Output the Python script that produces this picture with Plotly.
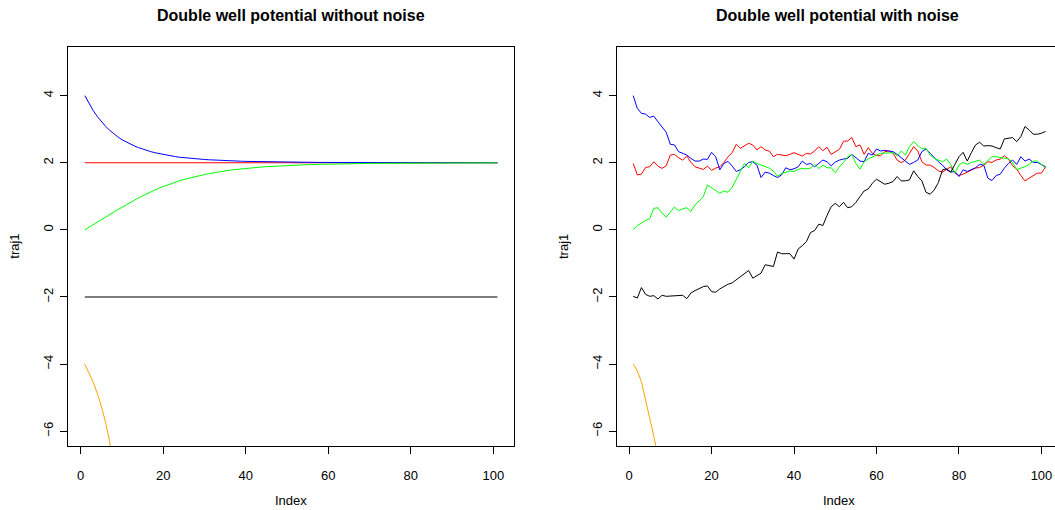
import plotly.graph_objects as go

# ---------------- data ----------------
index = list(range(1, 102))

# Left panel: deterministic trajectories (without noise)
det_blue = [4.000, 3.768, 3.563, 3.382, 3.222, 3.089, 2.970, 2.865, 2.771, 2.687,
            2.618, 2.557, 2.501, 2.451, 2.406, 2.365, 2.330, 2.299, 2.271, 2.245,
            2.221, 2.200, 2.181, 2.164, 2.150, 2.138, 2.126, 2.115, 2.106, 2.097,
            2.089, 2.081, 2.074, 2.068, 2.063, 2.057, 2.053, 2.049, 2.045, 2.041,
            2.038, 2.035, 2.033, 2.030, 2.028, 2.026, 2.024, 2.022, 2.020, 2.019,
            2.017, 2.016, 2.015, 2.014, 2.013, 2.012, 2.011, 2.010, 2.009, 2.008,
            2.007, 2.007, 2.006, 2.006, 2.005, 2.005, 2.004, 2.004, 2.004, 2.003,
            2.003, 2.003, 2.002, 2.002, 2.002, 2.002, 2.002, 2.001, 2.001, 2.001,
            2.001, 2.001, 2.001, 2.001, 2.001, 2.001, 2.000, 2.000, 2.000, 2.000,
            2.000, 2.000, 2.000, 2.000, 2.000, 2.000, 2.000, 2.000, 2.000, 2.000, 2.000]
det_green = [0.000, 0.078, 0.153, 0.225, 0.294, 0.377, 0.456, 0.532, 0.603, 0.671,
             0.748, 0.821, 0.890, 0.954, 1.015, 1.078, 1.137, 1.192, 1.244, 1.292,
             1.340, 1.385, 1.426, 1.465, 1.501, 1.535, 1.567, 1.596, 1.623, 1.649,
             1.674, 1.698, 1.719, 1.740, 1.758, 1.776, 1.792, 1.807, 1.821, 1.834,
             1.845, 1.856, 1.866, 1.875, 1.883, 1.891, 1.899, 1.906, 1.912, 1.918,
             1.924, 1.929, 1.934, 1.939, 1.943, 1.947, 1.951, 1.954, 1.957, 1.960,
             1.963, 1.966, 1.968, 1.970, 1.972, 1.974, 1.976, 1.978, 1.979, 1.981,
             1.982, 1.983, 1.985, 1.986, 1.987, 1.988, 1.988, 1.989, 1.990, 1.991,
             1.991, 1.992, 1.993, 1.993, 1.994, 1.994, 1.995, 1.995, 1.995, 1.996,
             1.996, 1.996, 1.997, 1.997, 1.997, 1.997, 1.998, 1.998, 1.998, 1.998, 1.998]
det_red = [2.0] * 101
det_black = [-2.0] * 101
det_orange = [-4.00, -4.25, -4.53, -4.86, -5.25, -5.72, -6.30, -7.05, -8.10]

# Right panel: noisy trajectories
noisy_blue = [4.00, 3.62, 3.47, 3.45, 3.35, 3.39, 3.22, 3.06, 2.91, 2.55,
              2.53, 2.33, 2.28, 2.23, 2.13, 2.05, 2.05, 2.11, 2.10, 2.31,
              2.18, 1.79, 1.98, 2.04, 1.90, 1.74, 1.79, 1.88, 2.01, 2.03,
              1.93, 1.56, 1.72, 1.69, 1.62, 1.56, 1.64, 1.85, 1.79, 1.82,
              1.88, 2.05, 1.95, 1.98, 1.88, 1.98, 2.08, 2.03, 1.91, 2.02,
              2.08, 2.11, 2.13, 2.25, 2.15, 2.05, 2.03, 2.28, 2.23, 2.41,
              2.35, 2.37, 2.35, 2.33, 2.25, 2.15, 2.05, 1.95, 2.01, 2.08,
              2.33, 2.41, 2.28, 2.15, 2.03, 1.93, 1.79, 1.72, 1.74, 1.59,
              1.79, 1.74, 1.79, 1.85, 1.95, 1.93, 1.54, 1.47, 1.62, 1.66,
              1.84, 1.98, 2.08, 1.95, 2.18, 2.05, 2.11, 2.01, 2.01, 1.95, 1.88]
noisy_red = [1.98, 1.64, 1.66, 1.86, 1.88, 2.03, 1.90, 1.83, 1.91, 2.23,
             2.25, 2.15, 2.08, 2.20, 2.01, 1.88, 1.84, 1.80, 1.90, 1.77,
             1.84, 1.88, 2.01, 2.18, 2.30, 2.55, 2.43, 2.50, 2.58, 2.53,
             2.38, 2.48, 2.38, 2.35, 2.18, 2.25, 2.23, 2.21, 2.25, 2.30,
             2.25, 2.20, 2.28, 2.26, 2.35, 2.48, 2.36, 2.46, 2.25, 2.33,
             2.40, 2.64, 2.65, 2.75, 2.48, 2.53, 2.25, 2.45, 2.28, 2.21,
             2.21, 2.33, 2.35, 2.28, 2.08, 2.00, 2.08, 2.28, 2.48, 2.35,
             2.03, 1.93, 1.93, 1.86, 1.76, 1.72, 1.79, 1.88, 1.69, 1.62,
             1.66, 1.72, 1.79, 1.84, 1.86, 1.93, 2.03, 2.01, 2.08, 2.11,
             2.21, 2.11, 1.91, 1.81, 1.62, 1.46, 1.54, 1.62, 1.69, 1.69, 1.88]
noisy_green = [0.00, 0.13, 0.20, 0.28, 0.33, 0.64, 0.66, 0.50, 0.38, 0.53,
               0.68, 0.57, 0.63, 0.66, 0.55, 0.74, 0.86, 0.99, 1.34, 1.26,
               1.16, 1.09, 1.16, 1.12, 1.27, 1.50, 1.72, 1.98, 1.85, 2.05,
               1.98, 1.93, 1.88, 1.84, 1.75, 1.60, 1.68, 1.72, 1.75, 1.74,
               1.80, 1.83, 1.82, 1.84, 1.95, 1.83, 1.93, 1.85, 1.85, 1.70,
               1.88, 2.01, 2.18, 2.25, 1.98, 1.81, 2.03, 2.11, 2.18, 2.23,
               2.28, 2.28, 2.28, 2.30, 2.21, 2.35, 2.23, 2.48, 2.63, 2.51,
               2.41, 2.43, 2.23, 2.13, 2.08, 2.03, 2.11, 1.95, 1.69, 1.93,
               2.01, 1.95, 2.01, 2.05, 2.08, 1.95, 2.08, 2.18, 2.18, 2.15,
               2.13, 2.11, 2.01, 1.79, 1.84, 1.88, 1.95, 2.05, 2.05, 1.93, 1.84]
noisy_black = [-1.98, -2.03, -1.72, -1.92, -1.98, -1.96, -2.06, -1.95, -1.98, -1.97,
               -1.96, -1.95, -1.95, -2.05, -1.88, -1.81, -1.74, -1.69, -1.67, -1.84,
               -1.86, -1.76, -1.69, -1.62, -1.58, -1.49, -1.39, -1.31, -1.21, -1.44,
               -1.36, -1.29, -1.04, -1.07, -1.09, -0.66, -0.71, -0.71, -0.71, -0.87,
               -0.57, -0.47, -0.35, -0.08, -0.02, 0.17, 0.13, 0.43, 0.69, 0.79,
               0.69, 0.82, 0.66, 0.69, 0.82, 0.99, 1.16, 1.22, 1.39, 1.51,
               1.44, 1.36, 1.39, 1.44, 1.59, 1.46, 1.46, 1.49, 1.76, 1.59,
               1.46, 1.12, 1.06, 1.19, 1.41, 1.79, 1.82, 1.72, 1.95, 2.18,
               2.31, 2.05, 2.30, 2.53, 2.61, 2.50, 2.51, 2.50, 2.45, 2.41,
               2.71, 2.73, 2.75, 2.63, 2.78, 3.08, 2.98, 2.85, 2.85, 2.88, 2.93]
noisy_orange = [-4.00, -4.20, -4.53, -5.05, -5.60, -6.15, -6.75, -7.50]

titles = ["Double well potential without noise", "Double well potential with noise"]
x_ticks = [0, 20, 40, 60, 80, 100]
y_ticks = [-6, -4, -2, 0, 2, 4]
x_label = "Index"
y_label = "traj1"

# ---------------- figure ----------------
W, H = 1055, 510
FONT = "Liberation Sans, Arial, sans-serif"

fig = go.Figure()

def add(xs, ys, color, ax):
    fig.add_trace(go.Scatter(x=xs, y=ys, mode="lines",
                             line=dict(color=color, width=1),
                             xaxis="x" if ax == 1 else "x2",
                             yaxis="y" if ax == 1 else "y2",
                             hoverinfo="skip", showlegend=False))

add(index, det_red, "#FF0000", 1)
add(index, det_blue, "#0000FF", 1)
add(index, det_green, "#00FF00", 1)
add(index, det_black, "#000000", 1)
add(index[:len(det_orange)], det_orange, "#FFA500", 1)

add(index, noisy_red, "#FF0000", 2)
add(index, noisy_blue, "#0000FF", 2)
add(index, noisy_green, "#00FF00", 2)
add(index, noisy_black, "#000000", 2)
add(index[:len(noisy_orange)], noisy_orange, "#FFA500", 2)

# pixel geometry
L1, R1 = 68.3, 514.0
L2 = 616.7
TOP, BOT = 47.3, 446.0
px_per_unit = 4.124
x2_max = -3 + (W - L2) / px_per_unit

common_x = dict(tickmode="array", tickvals=x_ticks, ticks="outside", ticklen=7,
                tickwidth=1, tickcolor="black", showline=True, linecolor="black",
                linewidth=1, showgrid=False, zeroline=False, mirror=True,
                tickfont=dict(family=FONT, size=13, color="black"),
                ticklabelstandoff=10)
common_y = dict(tickmode="array", tickvals=y_ticks, ticks="outside", ticklen=7,
                tickwidth=1, tickcolor="black", showline=True, linecolor="black",
                linewidth=1, showgrid=False, zeroline=False, range=[-6.44, 5.44],
                tickangle=-90, tickfont=dict(family=FONT, size=13, color="black"),
                ticklabelstandoff=2)

ydom = [1 - BOT / H, 1 - TOP / H]
fig.update_layout(
    width=W, height=H,
    margin=dict(l=0, r=0, t=0, b=0),
    paper_bgcolor="white", plot_bgcolor="white",
    showlegend=False,
    xaxis=dict(domain=[L1 / W, R1 / W], range=[-3, 105], anchor="y", **common_x),
    yaxis=dict(domain=ydom, anchor="x", mirror=True, **common_y),
    xaxis2=dict(domain=[L2 / W, 1.0], range=[-3, x2_max], anchor="y2", **common_x),
    yaxis2=dict(domain=ydom, anchor="x2", mirror=False, **common_y),
)

ann = []
title_centers = [(L1 + R1) / 2, 837.0]
xlabel_centers = [(L1 + R1) / 2, 839.4]
for cx, t in zip(title_centers, titles):
    ann.append(dict(text="<b>%s</b>" % t, x=cx / W, y=1 - 15 / H, xref="paper", yref="paper",
                    xanchor="center", yanchor="middle", showarrow=False,
                    font=dict(family=FONT, size=16, color="black")))
for cx in xlabel_centers:
    ann.append(dict(text=x_label, x=cx / W, y=1 - 500.5 / H, xref="paper", yref="paper",
                    xanchor="center", yanchor="middle", showarrow=False,
                    font=dict(family=FONT, size=13, color="black")))
for lx in [15.0, 563.3]:
    ann.append(dict(text=y_label, x=lx / W, y=1 - 246.7 / H, xref="paper", yref="paper",
                    xanchor="center", yanchor="middle", showarrow=False, textangle=-90,
                    font=dict(family=FONT, size=13, color="black")))
fig.update_layout(annotations=ann)

fig.write_html("out.html")
